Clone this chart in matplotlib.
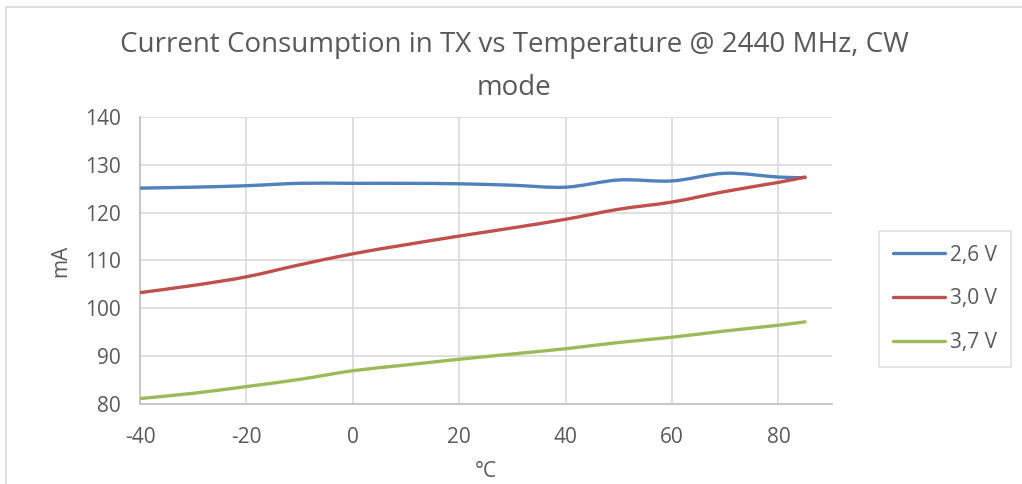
import numpy as np
import matplotlib.pyplot as plt
from matplotlib.path import Path
from matplotlib.patches import PathPatch, Rectangle
from matplotlib.lines import Line2D

plt.rcParams["axes.unicode_minus"] = False

# data
temp = [-40, -30, -20, -10, 0, 10, 20, 30, 40, 50, 60, 70, 80, 85]
i_26 = [125.1, 125.3, 125.6, 126.1, 126.1, 126.1, 126.0, 125.7, 125.3, 126.8, 126.6, 128.2, 127.4, 127.3]
i_30 = [103.3, 104.8, 106.6, 109.1, 111.4, 113.3, 115.1, 116.8, 118.6, 120.7, 122.2, 124.4, 126.3, 127.4]
i_37 = [81.2, 82.3, 83.7, 85.2, 87.0, 88.2, 89.4, 90.5, 91.6, 92.9, 94.0, 95.3, 96.5, 97.2]
labels = ["2,6 V", "3,0 V", "3,7 V"]
colors = ["#4F81BD", "#C0504D", "#9BBB59"]

text_color = "#595959"
grid_color = "#D9D9D9"
axis_color = "#BFBFBF"
font = "Open Sans"


def smooth_path(x, y):
    # Excel-like smoothed line: cubic bezier segments through the points
    x = np.asarray(x, float)
    y = np.asarray(y, float)
    n = len(x)
    verts = [(x[0], y[0])]
    codes = [Path.MOVETO]
    for k in range(n - 1):
        x0, y0 = (x[k - 1], y[k - 1]) if k > 0 else (x[k], y[k])
        x3, y3 = (x[k + 2], y[k + 2]) if k + 2 < n else (x[k + 1], y[k + 1])
        c1 = (x[k] + (x[k + 1] - x0) / 6, y[k] + (y[k + 1] - y0) / 6)
        c2 = (x[k + 1] - (x3 - x[k]) / 6, y[k + 1] - (y3 - y[k]) / 6)
        verts += [c1, c2, (x[k + 1], y[k + 1])]
        codes += [Path.CURVE4] * 3
    return Path(verts, codes)


fig = plt.figure(figsize=(10.22, 4.84), dpi=100)
ax = fig.add_axes([140 / 1022, 1 - 404.3 / 484, (831.7 - 140) / 1022, (404.3 - 116.7) / 484])

handles = []
for ys, lab, col in zip([i_26, i_30, i_37], labels, colors):
    ax.add_patch(PathPatch(smooth_path(temp, ys), facecolor="none", edgecolor=col,
                           lw=2.4, capstyle="round", joinstyle="round", zorder=3))
    handles.append(Line2D([], [], color=col, lw=2.4, solid_capstyle="round", label=lab))

ax.set_xlim(-40, 90)
ax.set_ylim(80, 140)
ax.set_xticks(np.arange(-40, 81, 20))
ax.set_yticks(np.arange(80, 141, 10))
ax.grid(True, color=grid_color, lw=1.2)
ax.set_axisbelow(True)
for s in ["top", "right"]:
    ax.spines[s].set_visible(False)
for s in ["left", "bottom"]:
    ax.spines[s].set_color(axis_color)
    ax.spines[s].set_linewidth(1.2)
ax.tick_params(length=0, labelsize=15, colors=text_color)
ax.tick_params(axis="x", pad=16)
ax.tick_params(axis="y", pad=14)
for t in ax.get_xticklabels() + ax.get_yticklabels():
    t.set_fontfamily(font)

ax.set_xlabel("°C", fontsize=15, color=text_color, family=font, labelpad=10)
ax.set_ylabel("mA", fontsize=15, color=text_color, family=font, labelpad=10)

fig.text(0.503, 1 - 45 / 484, "Current Consumption in TX vs Temperature @ 2440 MHz, CW",
         ha="center", va="center", fontsize=20, color=text_color, family=font)
fig.text(0.503, 1 - 88 / 484, "mode",
         ha="center", va="center", fontsize=20, color=text_color, family=font)

leg = fig.legend(handles=handles, loc="upper left",
                 bbox_to_anchor=(879 / 1022, 1 - 231 / 484), frameon=True,
                 fancybox=False, edgecolor=grid_color, handlelength=2.5,
                 labelspacing=1.1, handletextpad=0.25, borderpad=0.65,
                 borderaxespad=0, prop={"family": font, "size": 15})
leg.get_frame().set_linewidth(1.2)
for t in leg.get_texts():
    t.set_color(text_color)

# outer chart-area border
fig.add_artist(Rectangle((6 / 1022, -0.1), 1.2, 1 - 7 / 484 + 0.1, transform=fig.transFigure,
                         fill=False, edgecolor=grid_color, lw=1.2))

fig.savefig("out.png", dpi=100, facecolor="white")
